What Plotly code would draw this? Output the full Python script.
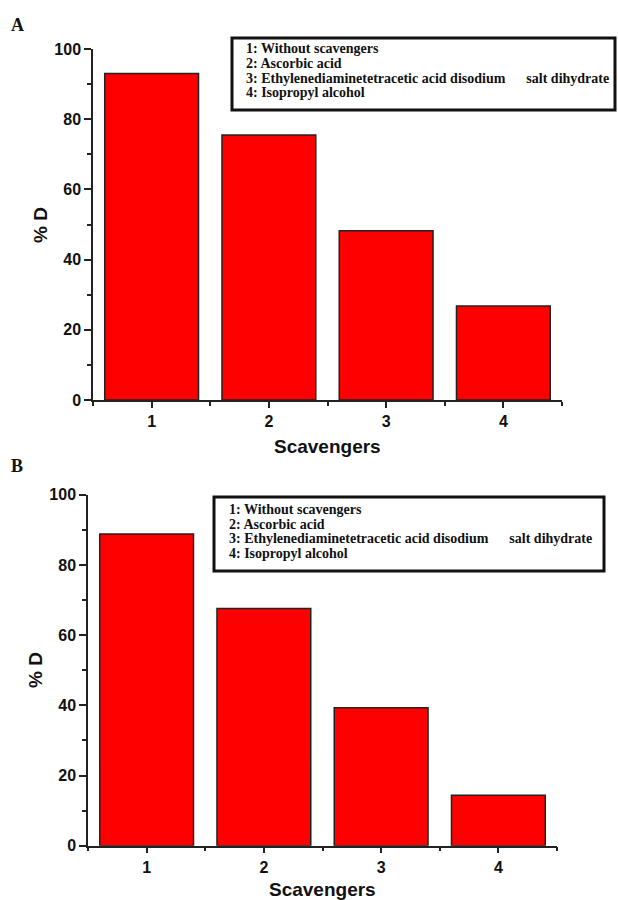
import plotly.graph_objects as go

# ---- data ----
categories = [1, 2, 3, 4]
pctD_A = [93.0, 75.5, 48.2, 26.8]
pctD_B = [88.8, 67.6, 39.3, 14.4]
legend_lines_A = [
    "1: Without scavengers",
    "2: Ascorbic acid",
    "3: Ethylenediaminetetracetic acid disodium" + "\u00a0" * 6 + "salt dihydrate",
    "4: Isopropyl alcohol",
]
legend_lines_B = [
    "1: Without scavengers",
    "2: Ascorbic acid",
    "3: Ethylenediaminetetracetic acid disodium" + "\u00a0" * 6 + "salt dihydrate",
    "4: Isopropyl alcohol",
]
x_ticks = [1, 2, 3, 4]
x_minor = [0.5, 1.5, 2.5, 3.5, 4.5]
y_ticks = [0, 20, 40, 60, 80, 100]
y_minor = [10, 30, 50, 70, 90]

W, H = 618, 900
def px(x):
    return x / W
def py(y):
    return 1 - y / H

fig = go.Figure()
bar_style = dict(marker=dict(color="#ff0000", line=dict(color="#222222", width=1.5)),
                 width=0.8, showlegend=False, hoverinfo="skip")
fig.add_trace(go.Bar(x=categories, y=pctD_A, xaxis="x", yaxis="y", **bar_style))
fig.add_trace(go.Bar(x=categories, y=pctD_B, xaxis="x2", yaxis="y2", **bar_style))

tickfont = dict(family="Liberation Sans, Arial", size=16, color="#111111", weight="bold")
common_x = dict(range=[0.5, 4.5], tickvals=x_ticks, ticktext=[str(c) for c in x_ticks],
                ticks="outside", ticklen=6, tickwidth=1.5, tickcolor="#222222",
                showline=True, linecolor="#222222", linewidth=1.5, showgrid=False,
                zeroline=False, tickfont=tickfont, automargin=False,
                minor=dict(tickvals=x_minor, ticks="outside", ticklen=4, tickwidth=1.5,
                           tickcolor="#222222", showgrid=False))
common_y = dict(range=[0, 100], tickvals=y_ticks, ticks="outside", ticklen=7, tickwidth=1.5,
                tickcolor="#222222", showline=True, linecolor="#222222", linewidth=1.5,
                showgrid=False, zeroline=False, tickfont=tickfont, automargin=False,
                minor=dict(tickvals=y_minor, ticks="outside", ticklen=4, tickwidth=1.5,
                           tickcolor="#222222", showgrid=False))

fig.update_layout(
    width=W, height=H, margin=dict(l=0, r=0, t=0, b=0, autoexpand=False),
    paper_bgcolor="white", plot_bgcolor="white", bargap=0.2,
    xaxis=dict(domain=[px(93), px(562)], anchor="y", **common_x),
    yaxis=dict(domain=[py(400), py(49)], anchor="x", **common_y),
    xaxis2=dict(domain=[px(88), px(557)], anchor="y2", **common_x),
    yaxis2=dict(domain=[py(845.7), py(494.7)], anchor="x2", **common_y),
)

title_font = dict(family="Liberation Sans, Arial", size=19, color="#111111")
ann = []
# axis titles
ann.append(dict(text="<b>Scavengers</b>", x=px(327.5), y=py(446), xref="paper", yref="paper",
                showarrow=False, font=title_font, xanchor="center", yanchor="middle"))
ann.append(dict(text="<b>% D</b>", x=px(40), y=py(225), xref="paper", yref="paper",
                showarrow=False, font=title_font, textangle=-90, xanchor="center", yanchor="middle"))
ann.append(dict(text="<b>Scavengers</b>", x=px(322.5), y=py(889), xref="paper", yref="paper",
                showarrow=False, font=title_font, xanchor="center", yanchor="middle"))
ann.append(dict(text="<b>% D</b>", x=px(35), y=py(670), xref="paper", yref="paper",
                showarrow=False, font=title_font, textangle=-90, xanchor="center", yanchor="middle"))
# panel labels
panel_font = dict(family="Liberation Serif, Times New Roman", size=18, color="#111111")
ann.append(dict(text="<b>A</b>", x=px(9), y=py(25), xref="paper", yref="paper", showarrow=False,
                font=panel_font, xanchor="left", yanchor="middle"))
ann.append(dict(text="<b>B</b>", x=px(9), y=py(466), xref="paper", yref="paper", showarrow=False,
                font=panel_font, xanchor="left", yanchor="middle"))

# legend boxes
leg_font = dict(family="Liberation Serif, Times New Roman", size=14, color="#111111")
for lines, x0, ys in [(legend_lines_A, 244, [49, 63.5, 78, 92.5]),
                      (legend_lines_B, 227, [509.5, 524, 538.5, 553])]:
    for t, yy in zip(lines, ys):
        ann.append(dict(text="<b>" + t + "</b>", x=px(x0), y=py(yy), xref="paper", yref="paper",
                        showarrow=False, font=leg_font, xanchor="left", yanchor="middle"))

shapes = [
    dict(type="rect", xref="paper", yref="paper", x0=px(232), x1=px(615), y0=py(110), y1=py(38),
         line=dict(color="#111111", width=3), fillcolor="rgba(0,0,0,0)"),
    dict(type="rect", xref="paper", yref="paper", x0=px(214), x1=px(604), y0=py(571), y1=py(497),
         line=dict(color="#111111", width=3), fillcolor="rgba(0,0,0,0)"),
]
fig.update_layout(annotations=ann, shapes=shapes)

# remove the default page margin so the 618x900 figure fills the window exactly
fig.write_html("out.html", config={"displayModeBar": False},
               post_script="document.body.style.margin='0';document.body.style.overflow='hidden';")
